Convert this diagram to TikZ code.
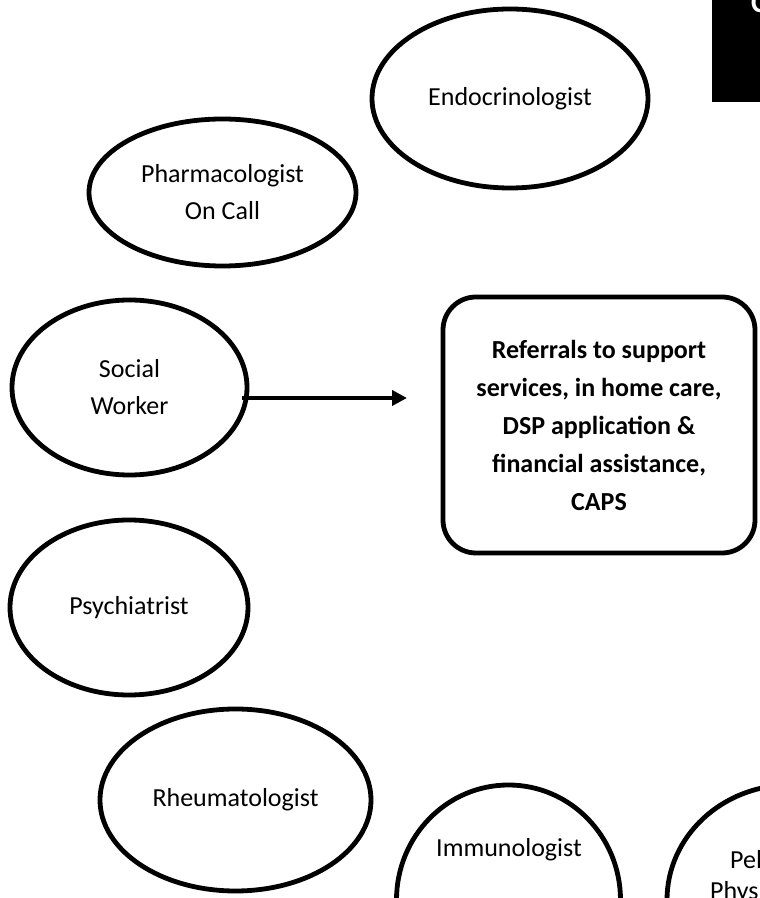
\documentclass[tikz,border=0pt]{standalone}
\usepackage{fontspec}
\setmainfont{Carlito}
\usetikzlibrary{shapes.geometric,arrows.meta,calc}
\begin{document}
\begin{tikzpicture}[x=1pt,y=1pt,
  oval/.style={ellipse, draw, line width=4.8pt, inner sep=0pt, align=center,
    font=\fontsize{26}{37}\selectfont},
  lbl/.style={inner sep=0pt, align=center, font=\fontsize{26}{37}\selectfont},
  refbox/.style={draw, line width=4.8pt, rounded corners=33pt, inner sep=0pt,
    minimum width=312pt, minimum height=256pt, align=center,
    font=\bfseries\fontsize{26}{38}\selectfont},
  conn/.style={line width=4pt, -{Triangle[length=15pt,width=15pt]}}
  ]
\useasboundingbox (0,0) rectangle (760,898);
\clip (0,0) rectangle (760,898);

% top-right black banner
\node[fill=black, inner sep=0pt, minimum width=48pt, minimum height=102pt] (banner) at (736,847) {};
\node[anchor=base west, inner sep=0pt, text=white, font=\bfseries\fontsize{30}{30}\selectfont] (bannertxt) at (751,885) {C};

\node[oval, minimum width=276pt, minimum height=179pt] (endo) at (510,799.5) {Endocrinologist};
\node[oval, minimum width=267pt, minimum height=147pt] (pharm) at (222.5,705.5) {Pharmacologist\\On Call};
\node[oval, minimum width=235pt, minimum height=175pt] (sw) at (129.5,510.5) {Social\\Worker};
\node[oval, minimum width=238pt, minimum height=175pt] (psy) at (129,290.5) {Psychiatrist};
\node[oval, minimum width=271pt, minimum height=182pt] (rheum) at (235.5,98) {Rheumatologist};
\node[oval, minimum width=224pt, minimum height=230pt] (immuno) at (508.5,-2) {};
\node[lbl] (immunotxt) at (509,48) {Immunologist};
\node[oval, minimum width=246pt, minimum height=230pt] (pelvic) at (790,-2) {};
\node[lbl, anchor=west] (peltxt1) at (730,38) {Pel};
\node[lbl, anchor=west] (peltxt2) at (710,5) {Physi};

\node[refbox] (ref) at (599,473) {Referrals to support\\services, in home care,\\DSP application \&\\financial assistance,\\CAPS};

\coordinate (arrowend) at (407,500);
\draw[conn] ($(sw.east)+(-7,-10.5)$) -- (arrowend);
\end{tikzpicture}
\end{document}
